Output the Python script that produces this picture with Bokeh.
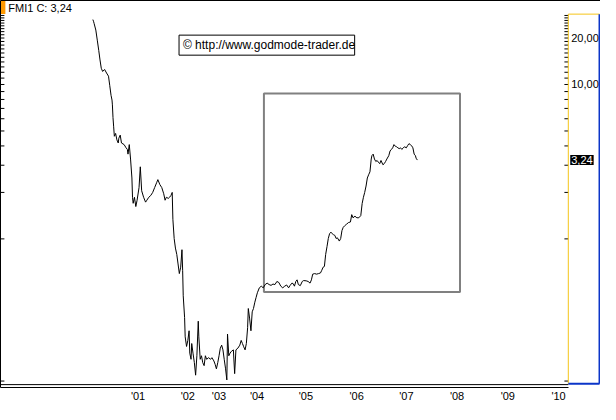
from bokeh.plotting import figure
from bokeh.models import Range1d, LinearAxis, FixedTicker, Label
from bokeh.core.properties import value
from bokeh.embed import file_html
from bokeh.resources import INLINE

# x = bar position on the chart's (non-linear) time axis, y = closing price (log scale)
bar_pos = [
    94.7, 95.5, 96.0, 97.7, 99.3, 100.7, 102.0, 103.3, 104.7, 106.7,
    108.7, 110.7, 112.0, 113.3, 114.3, 114.7, 115.3, 116.0, 116.7, 118.0,
    119.3, 120.7, 121.3, 122.7, 124.0, 126.7, 128.7, 130.0, 130.7, 132.0,
    133.3, 134.7, 135.3, 136.0, 137.3, 138.7, 140.0, 142.0, 143.3, 144.7,
    146.7, 148.7, 150.0, 152.0, 154.0, 156.0, 158.0, 160.0, 161.3, 163.3,
    165.3, 167.3, 168.7, 170.0, 172.0, 173.3, 174.7, 176.0, 176.7, 178.0,
    179.3, 180.7, 182.0, 183.3, 184.7, 186.0, 186.7, 187.3, 188.7, 189.3,
    190.7, 192.0, 193.3, 194.0, 195.3, 196.0, 197.3, 198.7, 200.0, 201.3,
    202.7, 203.3, 204.7, 206.0, 207.3, 208.7, 210.0, 211.3, 213.3, 215.3,
    216.7, 218.7, 220.0, 221.3, 222.7, 224.0, 225.3, 226.7, 228.0, 229.3,
    230.7, 232.0, 232.7, 234.0, 235.3, 236.7, 238.7, 240.0, 241.3, 243.3,
    245.3, 246.7, 248.0, 249.3, 250.7, 252.0, 253.3, 254.0, 255.3, 256.7,
    258.0, 259.3, 260.7, 262.0, 263.3, 265.3, 267.3, 269.3, 271.3, 273.3,
    275.3, 277.3, 279.3, 281.3, 283.3, 285.3, 287.3, 289.3, 291.3, 293.3,
    295.3, 296.7, 298.7, 300.0, 301.3, 302.7, 304.0, 305.3, 307.3, 309.3,
    310.7, 313.3, 315.3, 317.3, 318.7, 320.0, 322.0, 324.0, 326.0, 328.0,
    329.3, 330.7, 332.0, 333.3, 334.7, 336.0, 337.3, 338.7, 340.0, 341.3,
    342.7, 344.0, 345.3, 347.3, 348.7, 350.0, 351.3, 352.7, 354.7, 356.7,
    358.7, 360.0, 361.3, 363.3, 365.3, 367.3, 369.3, 370.7, 372.0, 373.3,
    374.7, 376.0, 377.3, 378.7, 380.0, 380.7, 382.0, 383.3, 384.7, 386.0,
    387.3, 388.7, 390.0, 392.0, 393.3, 394.7, 396.0, 398.0, 399.3, 400.7,
    402.0, 403.3, 404.7, 406.0, 407.3, 408.7, 410.0, 411.3, 412.7, 414.0,
    416.0, 417.3, 418.7, 420.0, 421.3, 422.7, 424.0, 425.3, 426.0, 427.3,
]
close = [
    26.33, 25.48, 24.77, 22.52, 19.17, 16.63, 14.42, 12.74, 12.15, 12.51,
    11.87, 11.32, 9.82, 8.51, 7.93, 7.38, 6.11, 5.32, 4.62, 4.82,
    4.38, 4.18, 4.49, 4.70, 4.18, 4.08, 3.89, 3.80, 3.54, 4.08,
    3.29, 2.48, 1.86, 1.70, 1.86, 1.62, 1.78, 2.15, 2.93, 2.05,
    1.86, 1.73, 1.78, 1.86, 1.91, 2.00, 2.15, 2.31, 2.42, 2.25,
    2.15, 1.96, 1.78, 1.86, 1.83, 1.86, 1.91, 2.00, 1.34, 1.006,
    0.872, 0.793, 0.688, 0.596, 0.656, 0.851, 0.626, 0.428, 0.309, 0.232,
    0.201, 0.220, 0.254, 0.182, 0.166, 0.210, 0.182, 0.158, 0.131, 0.175,
    0.293, 0.232, 0.166, 0.175, 0.158, 0.151, 0.175, 0.166, 0.170, 0.166,
    0.170, 0.162, 0.154, 0.144, 0.158, 0.175, 0.196, 0.205, 0.191, 0.166,
    0.144, 0.122, 0.242, 0.175, 0.182, 0.187, 0.191, 0.134, 0.191, 0.196,
    0.205, 0.220, 0.210, 0.200, 0.191, 0.210, 0.266, 0.354, 0.307, 0.254,
    0.337, 0.354, 0.389, 0.418, 0.448, 0.482, 0.494, 0.482, 0.506, 0.517,
    0.506, 0.500, 0.510, 0.506, 0.530, 0.522, 0.494, 0.482, 0.494, 0.503,
    0.482, 0.498, 0.517, 0.513, 0.494, 0.530, 0.543, 0.506, 0.498, 0.530,
    0.537, 0.535, 0.530, 0.517, 0.543, 0.591, 0.596, 0.591, 0.596, 0.602,
    0.626, 0.656, 0.663, 0.793, 0.894, 1.006, 1.080, 1.106, 1.080, 1.065,
    1.054, 1.006, 1.016, 0.968, 1.006, 1.132, 1.188, 1.215, 1.245, 1.276,
    1.287, 1.436, 1.370, 1.402, 1.370, 1.370, 1.416, 1.696, 1.86, 2.00,
    2.20, 2.48, 2.60, 2.72, 3.29, 3.46, 3.54, 3.29, 3.17, 3.22,
    3.14, 3.07, 3.22, 3.02, 3.07, 3.17, 3.29, 3.46, 3.71, 3.80,
    3.89, 4.08, 3.98, 3.95, 3.89, 3.84, 3.89, 3.80, 3.87, 3.95,
    3.89, 4.02, 4.14, 4.08, 4.02, 3.89, 3.54, 3.46, 3.33, 3.24,
]

year_tick_pos = [141, 192, 224, 263, 313, 365, 416, 468, 520, 572]
year_tick_labels = ["'01", "'02", "'03", "'04", "'05", "'06", "'07", "'08", "'09", "'10"]
price_ticks = [0.12] + list(range(1, 29))
right_label_values = [20, 10]
right_label_texts = ["20,00", "10,00"]
last_close = 3.24
last_close_text = "3,24"
header_text = "FMI1 C: 3,24"
copyright_text = "\u00a9 http://www.godmode-trader.de"

# highlighted box (bar range, price range)
box_left, box_right = 270, 471
box_top, box_bottom = 8.76, 0.453

FONT = value("Liberation Sans")
PANEL_X = 582        # bar position where the price panel starts
PANEL_END = 614
TICK_LEN = 4         # tick length in bar units

p = figure(width=600, height=404, y_axis_type="log",
           x_range=Range1d(0, 615), y_range=Range1d(0.109, 35.0),
           output_backend="svg", toolbar_location=None, min_border=0)
p.outline_line_color = None
p.xgrid.visible = False
p.ygrid.visible = False
p.background_fill_color = "white"
p.border_fill_color = "white"

# bottom time axis
xa = p.xaxis[0]
xa.ticker = FixedTicker(ticks=year_tick_pos, minor_ticks=[])
xa.major_label_overrides = {t: l for t, l in zip(year_tick_pos, year_tick_labels)}
xa.bounds = (0, PANEL_X)
xa.major_tick_in = 0
xa.major_tick_out = 0
xa.minor_tick_in = 0
xa.minor_tick_out = 0
xa.major_label_standoff = 2
xa.axis_line_color = "black"
xa.major_label_text_font = "Liberation Sans"
xa.major_label_text_font_size = "11px"
xa.major_label_text_color = "black"

# left border (axis line only)
ya = p.yaxis[0]
ya.ticker = FixedTicker(ticks=[], minor_ticks=[])
ya.major_tick_in = 0
ya.major_tick_out = 0
ya.minor_tick_in = 0
ya.minor_tick_out = 0
ya.major_label_standoff = 0
ya.axis_line_color = "black"

# top border
top_axis = LinearAxis(ticker=FixedTicker(ticks=[], minor_ticks=[]),
                      major_tick_in=0, major_tick_out=0,
                      minor_tick_in=0, minor_tick_out=0, major_label_standoff=0,
                      axis_line_color="black")
p.add_layout(top_axis, "above")

# price ticks: left edge and left of the price panel
n = len(price_ticks)
p.segment(x0=[0] * n, x1=[TICK_LEN] * n, y0=price_ticks, y1=price_ticks,
          line_color="black", line_width=1)
p.segment(x0=[PANEL_X - TICK_LEN] * n, x1=[PANEL_X] * n, y0=price_ticks, y1=price_ticks,
          line_color="black", line_width=1)

# highlighted rectangle
p.quad(left=[box_left], right=[box_right], top=[box_top], bottom=[box_bottom],
       fill_color=None, line_color="#808080", line_width=2)

# copyright box
p.quad(left=[183], right=[363], top=[20.88], bottom=[15.49],
       fill_color="white", line_color="black", line_width=1)
p.text(x=[187], y=[17.98], text=[copyright_text], text_font=FONT,
       text_font_size="12px", text_baseline="middle", text_color="black")

# price line
p.line(bar_pos, close, line_color="black", line_width=1)

# price panel frame
p.segment(x0=[PANEL_X, PANEL_X], y0=[28.56, 28.56], x1=[PANEL_X, PANEL_END], y1=[0.1154, 28.56],
          line_color="#f5c518", line_width=1)
p.segment(x0=[PANEL_END, PANEL_X], y0=[28.56, 0.1154], x1=[PANEL_END, PANEL_END], y1=[0.1154, 0.1154],
          line_color="#0b35c8", line_width=2)
p.segment(x0=[0], y0=[0.1138], x1=[PANEL_X], y1=[0.1138], line_color="black", line_width=1)

p.text(x=[585] * len(right_label_values), y=right_label_values, text=right_label_texts,
       text_font=FONT, text_font_size="11px", text_baseline="middle", text_color="black")

p.add_layout(Label(x=584, y=last_close, text=last_close_text, text_color="white",
                   text_font="Liberation Sans", text_font_size="11px", text_baseline="middle",
                   background_fill_color="black", padding=1))

# header
p.quad(left=[0], right=[5], top=[34.9], bottom=[28.6], fill_color="#ff9900", line_color=None)
p.text(x=[8], y=[31.5], text=[header_text], text_font=FONT, text_font_size="11px",
       text_baseline="middle", text_color="black")

open("out.html", "w").write(file_html(p, INLINE))
